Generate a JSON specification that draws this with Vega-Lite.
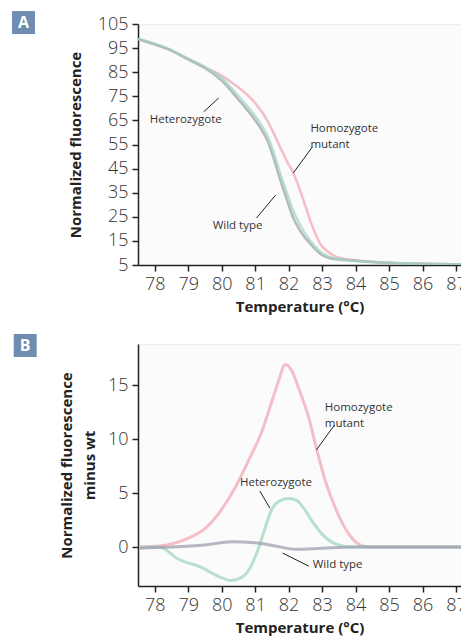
{
  "$schema": "https://vega.github.io/schema/vega-lite/v6.json",
  "padding": {"left": 11, "top": 10, "right": 0, "bottom": 0},
  "background": "white",
  "spacing": 79,
  "bounds": "flush",
  "config": {
    "view": {"stroke": "#eeeeee", "fill": "#fbfbfb"},
    "axis": {
      "domainColor": "#222222", "domainWidth": 1.5, "tickColor": "#222222", "tickWidth": 1.5, "tickSize": 6,
      "labelFont": "Open Sans", "labelFontWeight": 300, "labelFontSize": 18, "labelColor": "#333333", "labelPadding": 4,
      "labelOverlap": false, "labelBound": false, "labelFlush": false,
      "titleFont": "Open Sans", "titleFontWeight": "bold", "titleFontSize": 15, "titleColor": "#222222", "grid": false
    },
    "text": {"font": "Open Sans", "fontSize": 11.5, "color": "#333333"}
  },
  "datasets": {
    "a": [
      {"t": 77.5, "v": 98.8, "s": "Homozygote mutant"},
      {"t": 77.9, "v": 97.0, "s": "Homozygote mutant"},
      {"t": 78.4, "v": 94.6, "s": "Homozygote mutant"},
      {"t": 79.0, "v": 90.5, "s": "Homozygote mutant"},
      {"t": 79.6, "v": 86.3, "s": "Homozygote mutant"},
      {"t": 80.0, "v": 83.6, "s": "Homozygote mutant"},
      {"t": 80.36, "v": 80.1, "s": "Homozygote mutant"},
      {"t": 80.86, "v": 74.3, "s": "Homozygote mutant"},
      {"t": 81.1, "v": 70.5, "s": "Homozygote mutant"},
      {"t": 81.37, "v": 64.8, "s": "Homozygote mutant"},
      {"t": 81.56, "v": 59.5, "s": "Homozygote mutant"},
      {"t": 81.76, "v": 53.5, "s": "Homozygote mutant"},
      {"t": 81.95, "v": 48.0, "s": "Homozygote mutant"},
      {"t": 82.14, "v": 43.2, "s": "Homozygote mutant"},
      {"t": 82.35, "v": 35.7, "s": "Homozygote mutant"},
      {"t": 82.5, "v": 29.5, "s": "Homozygote mutant"},
      {"t": 82.65, "v": 23.3, "s": "Homozygote mutant"},
      {"t": 82.8, "v": 18.0, "s": "Homozygote mutant"},
      {"t": 82.95, "v": 13.7, "s": "Homozygote mutant"},
      {"t": 83.15, "v": 10.8, "s": "Homozygote mutant"},
      {"t": 83.34, "v": 9.0, "s": "Homozygote mutant"},
      {"t": 83.54, "v": 7.9, "s": "Homozygote mutant"},
      {"t": 84.0, "v": 7.0, "s": "Homozygote mutant"},
      {"t": 84.35, "v": 6.5, "s": "Homozygote mutant"},
      {"t": 85.0, "v": 5.8, "s": "Homozygote mutant"},
      {"t": 86.0, "v": 5.5, "s": "Homozygote mutant"},
      {"t": 87.2, "v": 5.3, "s": "Homozygote mutant"},
      {"t": 77.5, "v": 98.8, "s": "Wild type"},
      {"t": 77.9, "v": 97.0, "s": "Wild type"},
      {"t": 78.4, "v": 94.6, "s": "Wild type"},
      {"t": 79.0, "v": 90.3, "s": "Wild type"},
      {"t": 79.4, "v": 87.5, "s": "Wild type"},
      {"t": 79.76, "v": 84.3, "s": "Wild type"},
      {"t": 80.0, "v": 81.5, "s": "Wild type"},
      {"t": 80.36, "v": 76.0, "s": "Wild type"},
      {"t": 80.6, "v": 72.0, "s": "Wild type"},
      {"t": 80.86, "v": 67.7, "s": "Wild type"},
      {"t": 81.16, "v": 61.8, "s": "Wild type"},
      {"t": 81.37, "v": 56.5, "s": "Wild type"},
      {"t": 81.55, "v": 49.4, "s": "Wild type"},
      {"t": 81.76, "v": 39.9, "s": "Wild type"},
      {"t": 81.96, "v": 31.6, "s": "Wild type"},
      {"t": 82.14, "v": 24.5, "s": "Wild type"},
      {"t": 82.35, "v": 19.1, "s": "Wild type"},
      {"t": 82.65, "v": 13.7, "s": "Wild type"},
      {"t": 82.95, "v": 9.6, "s": "Wild type"},
      {"t": 83.34, "v": 7.5, "s": "Wild type"},
      {"t": 83.84, "v": 6.9, "s": "Wild type"},
      {"t": 84.5, "v": 6.2, "s": "Wild type"},
      {"t": 85.5, "v": 5.6, "s": "Wild type"},
      {"t": 87.2, "v": 5.3, "s": "Wild type"},
      {"t": 77.5, "v": 98.8, "s": "Heterozygote"},
      {"t": 78.4, "v": 94.8, "s": "Heterozygote"},
      {"t": 79.0, "v": 90.6, "s": "Heterozygote"},
      {"t": 79.4, "v": 87.9, "s": "Heterozygote"},
      {"t": 79.76, "v": 85.0, "s": "Heterozygote"},
      {"t": 80.0, "v": 82.5, "s": "Heterozygote"},
      {"t": 80.36, "v": 77.3, "s": "Heterozygote"},
      {"t": 80.6, "v": 73.5, "s": "Heterozygote"},
      {"t": 80.86, "v": 69.3, "s": "Heterozygote"},
      {"t": 81.16, "v": 63.5, "s": "Heterozygote"},
      {"t": 81.37, "v": 58.5, "s": "Heterozygote"},
      {"t": 81.55, "v": 51.8, "s": "Heterozygote"},
      {"t": 81.76, "v": 42.5, "s": "Heterozygote"},
      {"t": 81.96, "v": 34.5, "s": "Heterozygote"},
      {"t": 82.14, "v": 27.5, "s": "Heterozygote"},
      {"t": 82.35, "v": 21.5, "s": "Heterozygote"},
      {"t": 82.65, "v": 15.0, "s": "Heterozygote"},
      {"t": 82.95, "v": 10.5, "s": "Heterozygote"},
      {"t": 83.34, "v": 7.8, "s": "Heterozygote"},
      {"t": 83.84, "v": 6.9, "s": "Heterozygote"},
      {"t": 84.5, "v": 6.2, "s": "Heterozygote"},
      {"t": 85.5, "v": 5.6, "s": "Heterozygote"},
      {"t": 87.2, "v": 5.3, "s": "Heterozygote"}
    ],
    "b": [
      {"t": 77.54, "v": 0.0, "s": "Homozygote mutant"},
      {"t": 78.13, "v": 0.1, "s": "Homozygote mutant"},
      {"t": 78.9, "v": 0.7, "s": "Homozygote mutant"},
      {"t": 79.5, "v": 1.7, "s": "Homozygote mutant"},
      {"t": 80.0, "v": 3.5, "s": "Homozygote mutant"},
      {"t": 80.4, "v": 5.5, "s": "Homozygote mutant"},
      {"t": 80.8, "v": 8.0, "s": "Homozygote mutant"},
      {"t": 81.2, "v": 10.7, "s": "Homozygote mutant"},
      {"t": 81.5, "v": 13.5, "s": "Homozygote mutant"},
      {"t": 81.7, "v": 15.4, "s": "Homozygote mutant"},
      {"t": 81.9, "v": 16.9, "s": "Homozygote mutant"},
      {"t": 82.1, "v": 16.3, "s": "Homozygote mutant"},
      {"t": 82.3, "v": 14.7, "s": "Homozygote mutant"},
      {"t": 82.6, "v": 12.0, "s": "Homozygote mutant"},
      {"t": 82.85, "v": 8.9, "s": "Homozygote mutant"},
      {"t": 83.1, "v": 6.1, "s": "Homozygote mutant"},
      {"t": 83.4, "v": 3.6, "s": "Homozygote mutant"},
      {"t": 83.8, "v": 1.2, "s": "Homozygote mutant"},
      {"t": 84.2, "v": 0.1, "s": "Homozygote mutant"},
      {"t": 84.4, "v": 0.0, "s": "Homozygote mutant"},
      {"t": 87.2, "v": 0.0, "s": "Homozygote mutant"},
      {"t": 77.54, "v": 0.0, "s": "Heterozygote"},
      {"t": 78.13, "v": 0.0, "s": "Heterozygote"},
      {"t": 78.7, "v": -1.1, "s": "Heterozygote"},
      {"t": 79.4, "v": -1.9, "s": "Heterozygote"},
      {"t": 79.9, "v": -2.7, "s": "Heterozygote"},
      {"t": 80.3, "v": -3.1, "s": "Heterozygote"},
      {"t": 80.6, "v": -2.8, "s": "Heterozygote"},
      {"t": 80.85, "v": -1.9, "s": "Heterozygote"},
      {"t": 81.1, "v": -0.1, "s": "Heterozygote"},
      {"t": 81.3, "v": 1.8, "s": "Heterozygote"},
      {"t": 81.5, "v": 3.5, "s": "Heterozygote"},
      {"t": 81.75, "v": 4.3, "s": "Heterozygote"},
      {"t": 82.0, "v": 4.5, "s": "Heterozygote"},
      {"t": 82.25, "v": 4.3, "s": "Heterozygote"},
      {"t": 82.45, "v": 3.6, "s": "Heterozygote"},
      {"t": 82.7, "v": 2.4, "s": "Heterozygote"},
      {"t": 83.0, "v": 1.2, "s": "Heterozygote"},
      {"t": 83.4, "v": 0.3, "s": "Heterozygote"},
      {"t": 83.9, "v": 0.0, "s": "Heterozygote"},
      {"t": 87.2, "v": 0.0, "s": "Heterozygote"},
      {"t": 77.54, "v": -0.1, "s": "Wild type"},
      {"t": 78.5, "v": 0.0, "s": "Wild type"},
      {"t": 79.5, "v": 0.2, "s": "Wild type"},
      {"t": 80.3, "v": 0.5, "s": "Wild type"},
      {"t": 81.0, "v": 0.4, "s": "Wild type"},
      {"t": 81.6, "v": 0.1, "s": "Wild type"},
      {"t": 82.2, "v": -0.2, "s": "Wild type"},
      {"t": 83.0, "v": -0.1, "s": "Wild type"},
      {"t": 84.0, "v": 0.0, "s": "Wild type"},
      {"t": 87.2, "v": 0.0, "s": "Wild type"}
    ],
    "la": [
      {"t": 77.85, "v": 65.2, "txt": ["Heterozygote"]},
      {"t": 82.65, "v": 61.3, "txt": ["Homozygote", "mutant"]},
      {"t": 79.73, "v": 21.2, "txt": ["Wild type"]}
    ],
    "ra": [
      {"t": 79.46, "v": 68.5, "t2": 79.91, "v2": 74.3},
      {"t": 82.71, "v": 54.0, "t2": 82.14, "v2": 43.2},
      {"t": 81.04, "v": 24.5, "t2": 81.61, "v2": 34.0}
    ],
    "lb": [
      {"t": 83.08, "v": 12.85, "txt": ["Homozygote", "mutant"]},
      {"t": 80.55, "v": 5.9, "txt": ["Heterozygote"]},
      {"t": 82.72, "v": -1.7, "txt": ["Wild type"]}
    ],
    "rb": [
      {"t": 83.37, "v": 11.3, "t2": 82.83, "v2": 9.0},
      {"t": 81.14, "v": 5.2, "t2": 81.44, "v2": 3.6},
      {"t": 82.6, "v": -1.76, "t2": 81.82, "v2": -0.55}
    ],
    "pa": [{"t": 74.08, "v": 105.6, "txt": "A"}],
    "pb": [{"t": 74.13, "v": 18.66, "txt": "B"}]
  },
  "vconcat": [
    {
      "width": 323,
      "height": 241,
      "encoding": {
        "x": {"field": "t", "type": "quantitative", "scale": {"domain": [77.5, 87.15], "nice": false, "zero": false},
              "axis": {"values": [78, 79, 80, 81, 82, 83, 84, 85, 86, 87], "labelOverlap": false, "title": "Temperature (°C)", "titlePadding": 6}},
        "y": {"field": "v", "type": "quantitative", "scale": {"domain": [5, 105], "nice": false, "zero": false},
              "axis": {"values": [5, 15, 25, 35, 45, 55, 65, 75, 85, 95, 105], "labelOverlap": false, "title": "Normalized fluorescence", "titlePadding": 14}}
      },
      "layer": [
        {
          "data": {"name": "a"},
          "mark": {"type": "line", "interpolate": "monotone", "strokeWidth": 2.5, "opacity": 0.75, "clip": true},
          "encoding": {
            "color": {"field": "s", "type": "nominal", "legend": null,
                      "scale": {"domain": ["Homozygote mutant", "Heterozygote", "Wild type"], "range": ["#f2a9b4", "#a3d6c0", "#9da2b0"]}}
          }
        },
        {
          "data": {"name": "ra"},
          "mark": {"type": "rule", "color": "#222222", "strokeWidth": 1},
          "encoding": {"x2": {"field": "t2"}, "y2": {"field": "v2"}}
        },
        {
          "data": {"name": "la"},
          "mark": {"type": "text", "align": "left", "baseline": "middle", "lineHeight": 16},
          "encoding": {"text": {"field": "txt"}}
        },
        {
          "data": {"name": "pa"},
          "mark": {"type": "point", "shape": "square", "size": 529, "filled": true, "color": "#6f8db0", "opacity": 1},
          "encoding": {}
        },
        {
          "data": {"name": "pa"},
          "mark": {"type": "text", "color": "white", "fontWeight": "bold", "fontSize": 16, "baseline": "middle", "align": "center", "font": "Open Sans"},
          "encoding": {"text": {"field": "txt"}}
        }
      ]
    },
    {
      "width": 323,
      "height": 242,
      "encoding": {
        "x": {"field": "t", "type": "quantitative", "scale": {"domain": [77.5, 87.15], "nice": false, "zero": false},
              "axis": {"values": [78, 79, 80, 81, 82, 83, 84, 85, 86, 87], "labelOverlap": false, "title": "Temperature (°C)", "titlePadding": 6}},
        "y": {"field": "v", "type": "quantitative", "scale": {"domain": [-3.6, 18.8], "nice": false, "zero": false},
              "axis": {"values": [0, 5, 10, 15], "labelOverlap": false, "title": ["Normalized fluorescence", "minus wt"], "titleLineHeight": 23, "titlePadding": 10}}
      },
      "layer": [
        {
          "data": {"name": "b"},
          "mark": {"type": "line", "interpolate": "monotone", "strokeWidth": 3, "opacity": 0.75, "clip": true},
          "encoding": {
            "color": {"field": "s", "type": "nominal", "legend": null,
                      "scale": {"domain": ["Homozygote mutant", "Heterozygote", "Wild type"], "range": ["#f2a9b4", "#9fd4bc", "#b9b9ec"]}}
          }
        },
        {
          "data": {"name": "rb"},
          "mark": {"type": "rule", "color": "#222222", "strokeWidth": 1},
          "encoding": {"x2": {"field": "t2"}, "y2": {"field": "v2"}}
        },
        {
          "data": {"name": "lb"},
          "mark": {"type": "text", "align": "left", "baseline": "middle", "lineHeight": 16},
          "encoding": {"text": {"field": "txt"}}
        },
        {
          "data": {"name": "pb"},
          "mark": {"type": "point", "shape": "square", "size": 529, "filled": true, "color": "#6f8db0", "opacity": 1},
          "encoding": {}
        },
        {
          "data": {"name": "pb"},
          "mark": {"type": "text", "color": "white", "fontWeight": "bold", "fontSize": 16, "baseline": "middle", "align": "center", "font": "Open Sans"},
          "encoding": {"text": {"field": "txt"}}
        }
      ]
    }
  ]
}
